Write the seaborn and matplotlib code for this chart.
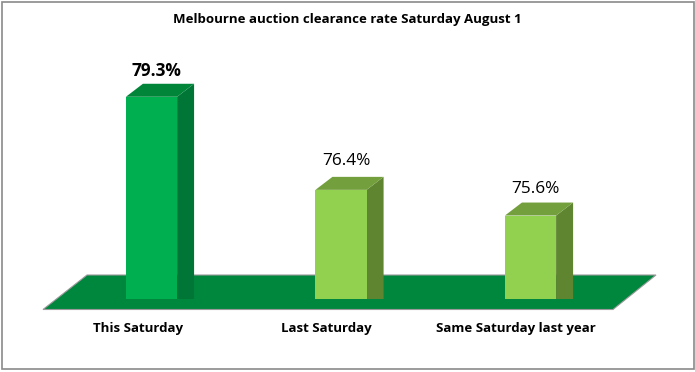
import matplotlib
matplotlib.use("Agg")
import matplotlib.pyplot as plt
from matplotlib.patches import Polygon, Rectangle
from matplotlib.transforms import IdentityTransform, ScaledTranslation
import seaborn as sns
import pandas as pd

title = "Melbourne auction clearance rate Saturday August 1"
categories = ["This Saturday", "Last Saturday", "Same Saturday last year"]
values = [79.3, 76.4, 75.6]
value_labels = ["79.3%", "76.4%", "75.6%"]

W, H = 695, 372
front = ["#00B050", "#92D050", "#92D050"]
side = ["#007636", "#5F8530", "#5F8530"]
top = ["#008539", "#739F3D", "#739F3D"]
floor_c = "#00873E"
DX, DY = 17, 13          # 3D depth in pixels
label_dx = [-13.5, -14.5, -14.5]   # tick label shifts in pixels
value_rise = [25.5, 28.5, 26.5]    # value label lift in pixels
FONT = "Open Sans"

sns.set_theme(style="white")
plt.rcParams["font.family"] = [FONT, "DejaVu Sans"]

fig = plt.figure(figsize=(W / 100, H / 100), dpi=100, facecolor="white")
PX_X, PX_Y = 189.5, 32.1
ax = fig.add_axes([56.75 / W, (H - 299) / H, 568.5 / W, 7 * PX_Y / H])
ax.patch.set_visible(False)

def px(points):
    return [(x, H - y) for x, y in points]

# frame and floor
fig.add_artist(Rectangle((1.5, H - 368.5), 692, 367, transform=IdentityTransform(),
                         fill=False, ec="#8a8a8a", lw=1.2))
fig.add_artist(Polygon(px([(43, 309.5), (613, 309.5), (656, 275), (87, 275)]),
                       transform=IdentityTransform(), fc=floor_c, ec="#9a9a9a", lw=0.8, zorder=0))

df = pd.DataFrame({"category": categories, "value": values})
sns.barplot(data=df, x="category", y="value", hue="category", order=categories,
            hue_order=categories, palette=front, width=0.27, dodge=False,
            legend=False, ax=ax, saturation=1, zorder=3, edgecolor="none", linewidth=0)
ax.set_xlim(-0.5, 2.5)
ax.set_ylim(73, 80)
ax.set_xlabel("")
ax.set_ylabel("")
ax.set_yticks([])
sns.despine(ax=ax, left=True, bottom=True)
ax.tick_params(axis="x", length=0, pad=16.5)

dx, dy = DX / PX_X, DY / PX_Y
bars = [c[0] for c in ax.containers]
for i, b in enumerate(bars):
    x0, x1 = b.get_x(), b.get_x() + b.get_width()
    y0, y1 = b.get_y(), b.get_y() + b.get_height()
    ax.add_patch(Polygon([(x1, y0), (x1 + dx, y0 + dy), (x1 + dx, y1 + dy), (x1, y1)],
                         fc=side[i], ec="none", zorder=2))
    ax.add_patch(Polygon([(x0, y1), (x1, y1), (x1 + dx, y1 + dy), (x0 + dx, y1 + dy)],
                         fc=top[i], ec="none", zorder=2))
    ax.annotate(value_labels[i], ((x0 + x1) / 2, values[i]),
                xytext=(5 * 0.72, value_rise[i] * 0.72), textcoords="offset points",
                ha="center", va="center", fontsize=12.4, color="black",
                fontweight="bold" if i == 0 else "normal")

for lab, off in zip(ax.get_xticklabels(), label_dx):
    lab.set_fontsize(9.5)
    lab.set_fontweight("bold")
    lab.set_color("black")
    lab.set_transform(lab.get_transform() + ScaledTranslation(off / 100, 0, fig.dpi_scale_trans))

fig.text(347 / W, (H - 20) / H, title, ha="center", va="center", fontsize=9.55,
         fontweight="bold", color="black")

fig.savefig("out.png", dpi=100, facecolor="white")
